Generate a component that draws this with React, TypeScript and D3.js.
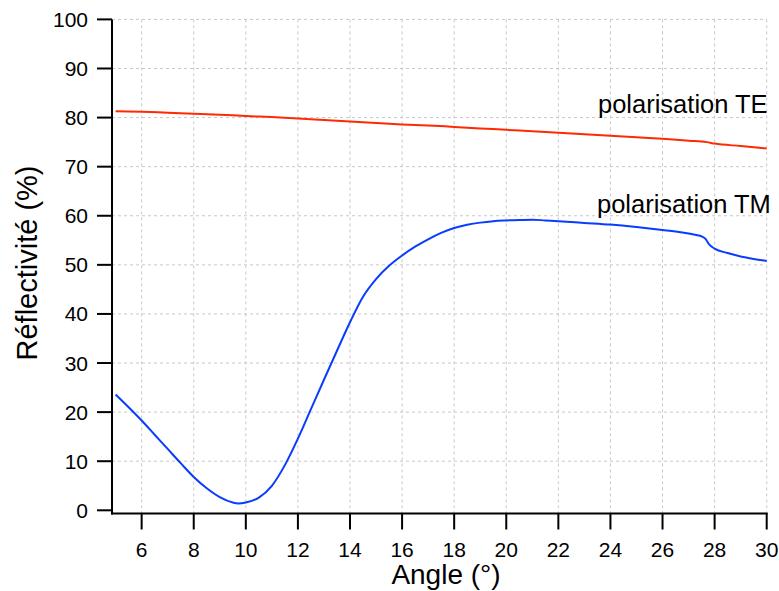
import React from "react";
import * as d3 from "d3";

const angleTicks = [6, 8, 10, 12, 14, 16, 18, 20, 22, 24, 26, 28, 30];
const reflTicks = [0, 10, 20, 30, 40, 50, 60, 70, 80, 90, 100];

const teAngles = [5, 6, 7, 8, 9, 10, 11, 12, 13, 14, 15, 16, 17, 18, 19, 20, 21, 22, 23, 24, 25, 26, 27, 27.7, 28, 29, 30];
const teValues = [81.3, 81.2, 81.0, 80.8, 80.6, 80.3, 80.1, 79.8, 79.5, 79.2, 78.9, 78.6, 78.4, 78.1, 77.8, 77.5, 77.2, 76.9, 76.6, 76.3, 76.0, 75.7, 75.3, 75.0, 74.7, 74.2, 73.7];

const tmAngles = [5, 5.5, 6, 6.5, 7, 7.5, 8, 8.5, 9, 9.5, 9.7, 10, 10.5, 11, 11.5, 12, 12.5, 13, 13.5, 14, 14.5, 15, 15.5, 16, 16.5, 17, 17.5, 18, 18.5, 19, 19.5, 20, 20.5, 21, 21.5, 22, 23, 24, 25, 26, 26.5, 27, 27.3, 27.5, 27.65, 27.8, 28, 28.5, 29, 29.5, 30];
const tmValues = [23.6, 21.0, 18.3, 15.4, 12.5, 9.6, 6.8, 4.5, 2.7, 1.6, 1.4, 1.6, 2.6, 5.0, 9.2, 14.6, 20.6, 26.6, 32.5, 38.3, 43.5, 47.1, 49.8, 51.9, 53.7, 55.2, 56.5, 57.5, 58.15, 58.6, 58.9, 59.05, 59.15, 59.2, 59.05, 58.9, 58.55, 58.2, 57.7, 57.1, 56.8, 56.4, 56.1, 55.8, 55.3, 54.1, 53.3, 52.4, 51.7, 51.2, 50.8];

const seriesLabels = ["polarisation TE", "polarisation TM"];
const xTitle = "Angle (°)";
const yTitle = "Réflectivité (%)";

const W = 779;
const H = 591;
const FONT = "'Liberation Sans', Arial, sans-serif";

export default function App() {
  const x = d3.scaleLinear().domain([5, 30]).range([115.6, 766.7]);
  const y = d3.scaleLinear().domain([0, 100]).range([510.3, 19.4]);
  const axisX = 112;
  const axisY = 513.5;

  const line = d3
    .line<[number, number]>()
    .x((d) => x(d[0]))
    .y((d) => y(d[1]))
    .curve(d3.curveMonotoneX);

  const te = teAngles.map((a, i) => [a, teValues[i]] as [number, number]);
  const tm = tmAngles.map((a, i) => [a, tmValues[i]] as [number, number]);

  return (
    <svg
      width={W}
      height={H}
      style={{ position: "absolute", left: 0, top: 0, background: "#fff" }}
      fontFamily={FONT}
    >
      <rect x={0} y={0} width={W} height={H} fill="#fff" />
      <g stroke="#c8c8c8" strokeWidth={1} strokeDasharray="3,3">
        {reflTicks
          .filter((t) => t > 0)
          .map((t) => (
            <line key={"h" + t} x1={axisX} x2={x(30)} y1={y(t)} y2={y(t)} />
          ))}
        {angleTicks.map((t) => (
          <line key={"v" + t} x1={x(t)} x2={x(t)} y1={y(100)} y2={axisY} />
        ))}
      </g>
      <path d={line(te) || ""} fill="none" stroke="#ff2a00" strokeWidth={2} />
      <path d={line(tm) || ""} fill="none" stroke="#0a3cff" strokeWidth={2} />
      <g stroke="#000" strokeWidth={2}>
        <line x1={axisX} x2={axisX} y1={y(100)} y2={axisY + 1} />
        <line x1={axisX - 1} x2={x(30) + 1} y1={axisY} y2={axisY} />
        {reflTicks.map((t) => (
          <line key={"yt" + t} x1={axisX - 15} x2={axisX} y1={y(t)} y2={y(t)} />
        ))}
        {angleTicks.map((t) => (
          <line key={"xt" + t} x1={x(t)} x2={x(t)} y1={axisY} y2={axisY + 16} />
        ))}
      </g>
      <g fontSize={21} fill="#000">
        {reflTicks.map((t) => (
          <text key={"yl" + t} x={88} y={y(t) + 7.5} textAnchor="end">
            {t}
          </text>
        ))}
        {angleTicks.map((t) => (
          <text key={"xl" + t} x={x(t)} y={557} textAnchor="middle">
            {t}
          </text>
        ))}
      </g>
      <text x={446} y={584} fontSize={28} textAnchor="middle" fill="#000">
        {xTitle}
      </text>
      <text
        transform={`translate(37,${263}) rotate(-90)`}
        fontSize={29}
        textAnchor="middle"
        fill="#000"
      >
        {yTitle}
      </text>
      <text x={598} y={113} fontSize={25.5} fill="#000">
        {seriesLabels[0]}
      </text>
      <text x={597} y={213} fontSize={25.5} fill="#000">
        {seriesLabels[1]}
      </text>
    </svg>
  );
}
